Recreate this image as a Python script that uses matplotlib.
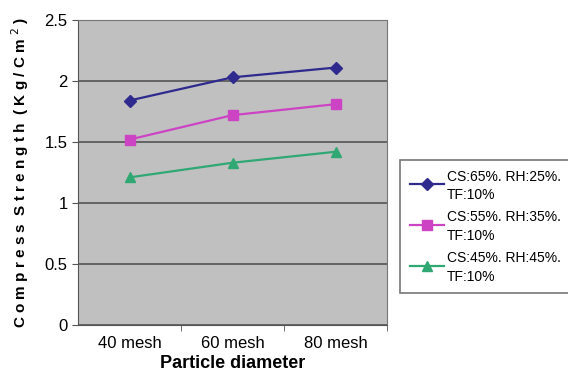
import numpy as np
import matplotlib.pyplot as plt
from matplotlib.legend_handler import HandlerLine2D

# data
sizes = ["40 mesh", "60 mesh", "80 mesh"]
cs65 = [1.84, 2.03, 2.11]
cs55 = [1.52, 1.72, 1.81]
cs45 = [1.21, 1.33, 1.42]
labels = ["CS:65%. RH:25%.\nTF:10%", "CS:55%. RH:35%.\nTF:10%", "CS:45%. RH:45%.\nTF:10%"]

plt.rcParams['font.family'] = ['Liberation Sans', 'DejaVu Sans']


class TopLineHandler(HandlerLine2D):
    # put the legend line beside the first text line, like Excel does
    def create_artists(self, legend, orig_handle, xdescent, ydescent,
                       width, height, fontsize, trans):
        arts = super().create_artists(legend, orig_handle, xdescent, ydescent,
                                      width, height, fontsize, trans)
        for a in arts:
            a.set_ydata(np.asarray(a.get_ydata()) + height * 0.25)
        return arts


fig = plt.figure(figsize=(5.68, 3.8), dpi=100)
ax = fig.add_axes([78 / 568, 1 - 325 / 380, 309 / 568, 305 / 380])
ax.set_facecolor("#c0c0c0")

x = np.arange(len(sizes))
ax.plot(x, cs65, color="#2e2a8e", marker="D", ms=6, lw=1.6, label=labels[0])
ax.plot(x, cs55, color="#cc44c4", marker="s", ms=7, lw=1.6, label=labels[1])
ax.plot(x, cs45, color="#30a874", marker="^", ms=7, lw=1.6, label=labels[2])

ax.set_xlim(-0.5, 2.5)
ax.set_ylim(0, 2.5)
ax.set_yticks([0, 0.5, 1, 1.5, 2, 2.5])
ax.set_yticklabels(["0", "0.5", "1", "1.5", "2", "2.5"], fontsize=12)
ax.set_xticks(x)
ax.set_xticklabels(sizes, fontsize=12)
ax.set_xticks([0.5, 1.5, 2.5], minor=True)
ax.tick_params(axis="x", which="major", length=0, pad=8)
ax.tick_params(axis="x", which="minor", length=4, color="#555555")
ax.tick_params(axis="y", length=4, color="#555555")
ax.yaxis.grid(True, color="#555555", lw=1.2)
ax.set_axisbelow(True)
for s in ax.spines.values():
    s.set_color("#777777")
ax.spines["left"].set_color("#555555")
ax.spines["bottom"].set_color("#555555")

ax.set_xlabel("Particle diameter", fontsize=13, fontweight="bold", labelpad=3)
ax.set_ylabel("C o m p r e s s  S t r e n g t h  ( K g / C m $^2$ )", fontsize=11,
              fontweight="bold", labelpad=10)

leg = ax.legend(loc="upper left", bbox_to_anchor=(400 / 568, 1 - 160 / 380),
                bbox_transform=fig.transFigure, fontsize=10, frameon=True,
                fancybox=False, edgecolor="#555555", handlelength=2.5,
                labelspacing=0.6, borderpad=0.7, borderaxespad=0,
                handletextpad=0.15,
                handler_map={plt.Line2D: TopLineHandler()})
for t in leg.get_texts():
    t.set_linespacing(1.4)
leg.get_frame().set_linewidth(1.2)

fig.savefig("out.png", dpi=100)
